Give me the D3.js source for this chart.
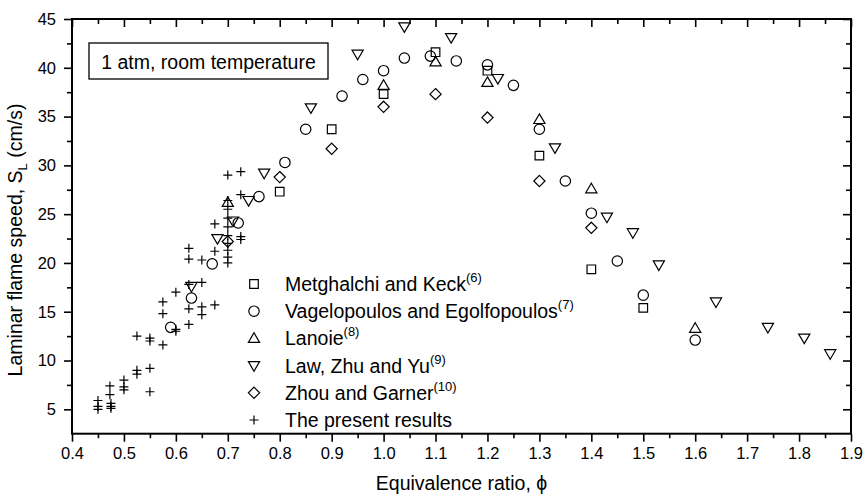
<!DOCTYPE html>
<html lang="en">
<head>
<meta charset="UTF-8">
<title>Laminar flame speed</title>
<style>
  body { margin: 0; background: #fff; }
  svg text { font-family: "Liberation Sans", Arial, sans-serif; fill: #000; }
</style>
</head>
<body>
<div id="chart"></div>
<script src="https://d3js.org/d3.v7.min.js"></script>
<script>
// series: [equivalence ratio, flame speed cm/s]
const metghalchi = [[0.8, 27.3], [0.9, 33.7], [1.0, 37.3], [1.1, 41.6], [1.2, 39.7], [1.3, 31.0], [1.4, 19.35], [1.5, 15.4]];
const vagelopoulos = [[0.59, 13.4], [0.63, 16.4], [0.67, 19.9], [0.72, 24.1], [0.76, 26.8], [0.81, 30.3], [0.85, 33.7],
  [0.92, 37.1], [0.96, 38.8], [1.0, 39.7], [1.04, 41.0], [1.09, 41.2], [1.14, 40.7], [1.2, 40.3], [1.25, 38.2],
  [1.3, 33.7], [1.35, 28.4], [1.4, 25.1], [1.45, 20.2], [1.5, 16.7], [1.6, 12.1]];
const lanoie = [[0.7, 26.2], [1.0, 38.2], [1.1, 40.6], [1.2, 38.5], [1.3, 34.7], [1.4, 27.6], [1.6, 13.3]];
const lawZhuYu = [[0.63, 17.6], [0.68, 22.5], [0.71, 24.3], [0.74, 26.4], [0.77, 29.2], [0.86, 35.9], [0.95, 41.4],
  [1.04, 44.2], [1.13, 43.1], [1.22, 38.9], [1.33, 31.8], [1.43, 24.7], [1.48, 23.1], [1.53, 19.8], [1.64, 16.0],
  [1.74, 13.4], [1.81, 12.3], [1.86, 10.7]];
const zhouGarner = [[0.7, 22.2], [0.8, 28.8], [0.9, 31.7], [1.0, 36.0], [1.1, 37.3], [1.2, 34.9], [1.3, 28.4], [1.4, 23.6]];
const present = [[0.45, 5.9], [0.45, 5.3], [0.45, 5.0], [0.473, 7.4], [0.473, 6.5], [0.475, 5.6], [0.475, 5.3], [0.475, 5.1],
  [0.5, 8.0], [0.5, 7.3], [0.5, 7.0], [0.525, 12.5], [0.525, 9.0], [0.525, 8.6],
  [0.55, 12.3], [0.55, 12.0], [0.55, 9.2], [0.55, 6.8], [0.575, 16.0], [0.575, 14.8], [0.575, 11.6],
  [0.6, 17.0], [0.6, 13.2], [0.6, 13.0], [0.625, 21.5], [0.625, 20.4], [0.625, 17.8], [0.625, 15.3], [0.625, 13.7],
  [0.65, 20.3], [0.65, 18.0], [0.65, 15.5], [0.65, 14.7], [0.675, 24.0], [0.675, 21.2], [0.675, 15.7],
  [0.7, 29.0], [0.7, 26.4], [0.7, 25.5], [0.7, 24.6], [0.7, 23.7], [0.7, 22.8], [0.7, 22.0], [0.7, 21.3], [0.7, 20.6], [0.7, 20.0],
  [0.725, 29.35], [0.725, 27.0], [0.725, 22.7], [0.725, 22.4]];

const seriesNames = ["Metghalchi and Keck", "Vagelopoulos and Egolfopoulos", "Lanoie", "Law, Zhu and Yu", "Zhou and Garner", "The present results"];
const seriesRefs = ["(6)", "(7)", "(8)", "(9)", "(10)", ""];
const xTickValues = [0.4, 0.5, 0.6, 0.7, 0.8, 0.9, 1.0, 1.1, 1.2, 1.3, 1.4, 1.5, 1.6, 1.7, 1.8, 1.9];
const yTickValues = [5, 10, 15, 20, 25, 30, 35, 40, 45];

const W = 864, H = 498;
const pLeft = 72, pRight = 851, pTop = 19, pBottom = 433.7;

const svg = d3.select('#chart').append('svg')
  .attr('width', W).attr('height', H);

const x = d3.scaleLinear().domain([0.4, 1.9]).range([pLeft, pRight]);
const y = d3.scaleLinear().domain([2.5, 45]).range([pBottom, pTop]);

const xMinor = d3.range(0.45, 1.9, 0.1).map(v => +v.toFixed(2));
const yMinor = d3.range(7.5, 45, 5);

function styleAxis(g) {
  g.select('.domain').remove();
  g.selectAll('line').attr('stroke', '#000').attr('stroke-width', 1.6);
  g.selectAll('text').style('font-size', '16.5px');
}

// bottom / left: outward ticks with labels
svg.append('g').attr('transform', `translate(0,${pBottom})`)
  .call(d3.axisBottom(x).tickValues(xTickValues).tickFormat(d3.format('.1f')).tickSize(8).tickPadding(6))
  .call(styleAxis);
svg.append('g').attr('transform', `translate(0,${pBottom})`)
  .call(d3.axisBottom(x).tickValues(xMinor).tickFormat('').tickSize(4.5))
  .call(styleAxis);
svg.append('g').attr('transform', `translate(${pLeft},0)`)
  .call(d3.axisLeft(y).tickValues(yTickValues).tickFormat(d3.format('d')).tickSize(8).tickPadding(8))
  .call(styleAxis);
svg.append('g').attr('transform', `translate(${pLeft},0)`)
  .call(d3.axisLeft(y).tickValues(yMinor).tickFormat('').tickSize(5))
  .call(styleAxis);

// top / right: inward ticks
svg.append('g').attr('transform', `translate(0,${pTop})`)
  .call(d3.axisTop(x).tickValues(xTickValues).tickFormat('').tickSize(-8))
  .call(styleAxis);
svg.append('g').attr('transform', `translate(0,${pTop})`)
  .call(d3.axisTop(x).tickValues(xMinor).tickFormat('').tickSize(-5))
  .call(styleAxis);
svg.append('g').attr('transform', `translate(${pRight},0)`)
  .call(d3.axisRight(y).tickValues(yTickValues).tickFormat('').tickSize(-8))
  .call(styleAxis);
svg.append('g').attr('transform', `translate(${pRight},0)`)
  .call(d3.axisRight(y).tickValues(yMinor).tickFormat('').tickSize(-5))
  .call(styleAxis);

// frame
svg.append('rect')
  .attr('x', pLeft).attr('y', pTop)
  .attr('width', pRight - pLeft).attr('height', pBottom - pTop)
  .attr('fill', 'none').attr('stroke', '#000').attr('stroke-width', 2);

// marker shapes
const shapes = {
  square: 'M-4.3,-4.3H4.3V4.3H-4.3Z',
  circle: 'M5.2,0A5.2,5.2 0 1,1 -5.2,0A5.2,5.2 0 1,1 5.2,0Z',
  up: 'M0,-5.6L5.6,4L-5.6,4Z',
  down: 'M0,5.6L5.6,-4L-5.6,-4Z',
  diamond: 'M0,-5.6L5.6,0L0,5.6L-5.6,0Z',
  plus: 'M-4.5,0H4.5M0,-4.5V4.5'
};
const seriesData = [metghalchi, vagelopoulos, lanoie, lawZhuYu, zhouGarner, present];
const seriesShapes = ['square', 'circle', 'up', 'down', 'diamond', 'plus'];

seriesData.forEach((data, i) => {
  svg.append('g').selectAll('path')
    .data(data)
    .enter()
    .append('path')
    .attr('d', shapes[seriesShapes[i]])
    .attr('transform', d => `translate(${x(d[0])},${y(d[1])})`)
    .attr('fill', 'none')
    .attr('stroke', '#000')
    .attr('stroke-width', 1.2);
});

// condition box
svg.append('rect')
  .attr('x', 89).attr('y', 43).attr('width', 239).attr('height', 36)
  .attr('fill', '#fff').attr('stroke', '#000').attr('stroke-width', 1.3);
svg.append('text')
  .attr('x', 208.5).attr('y', 68.5)
  .attr('text-anchor', 'middle')
  .style('font-size', '19.5px')
  .text('1 atm, room temperature');

// legend
const legend = svg.append('g');
seriesNames.forEach((name, i) => {
  const cy = 284 + i * 27.2;
  legend.append('path')
    .attr('d', shapes[seriesShapes[i]])
    .attr('transform', `translate(254,${cy})`)
    .attr('fill', 'none').attr('stroke', '#000').attr('stroke-width', 1.2);
  const t = legend.append('text')
    .attr('x', 285).attr('y', cy + 7)
    .style('font-size', '19.5px')
    .text(name);
  if (seriesRefs[i]) {
    t.append('tspan')
      .attr('dy', -9)
      .style('font-size', '13px')
      .text(seriesRefs[i]);
  }
});

// axis titles
svg.append('text')
  .attr('x', (pLeft + pRight) / 2).attr('y', 490)
  .attr('text-anchor', 'middle')
  .style('font-size', '19.5px')
  .text('Equivalence ratio, ϕ');

const yt = svg.append('text')
  .attr('transform', 'rotate(-90)')
  .attr('x', -240).attr('y', 22)
  .attr('text-anchor', 'middle')
  .style('font-size', '19.5px');
yt.append('tspan').text('Laminar flame speed, S');
yt.append('tspan').attr('dy', 5).style('font-size', '13px').text('L');
yt.append('tspan').attr('dy', -5).text(' (cm/s)');
</script>
</body>
</html>
